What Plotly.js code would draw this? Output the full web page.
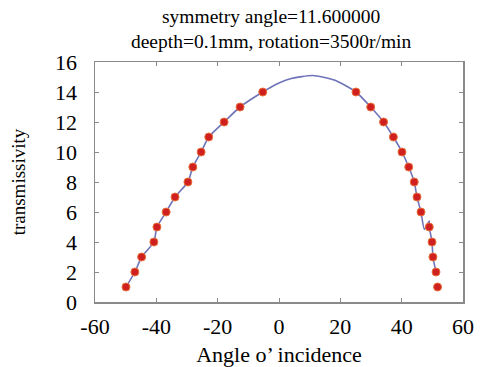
<!DOCTYPE html>
<html>
<head>
<meta charset="utf-8">
<script src="https://cdn.plot.ly/plotly-3.0.1.min.js"></script>
<style>html,body{margin:0;padding:0;background:#fff;}#chart{width:485px;height:367px;}</style>
</head>
<body>
<div id="chart"></div>
<script>
// Measured points (angle of incidence, transmissivity)
var leftAngle = [-49.9, -47.0, -44.8, -40.8, -39.8, -36.8, -33.9, -29.7, -28.1, -25.4, -22.9, -17.9, -12.7, -5.3];
var leftTrans = [1, 2, 3, 4, 5, 6, 7, 8, 9, 10, 11, 12, 13, 14];
var rightAngle = [25.1, 29.9, 34.1, 37.3, 40.1, 42.3, 44.1, 45.0, 46.3, 49.0, 49.9, 50.2, 51.2, 51.7];
var rightTrans = [14, 13, 12, 11, 10, 9, 8, 7, 6, 5, 4, 3, 2, 1];

// Fitted curve
var curveAngle = [-49.9, -47.0, -44.8, -40.8, -39.8, -36.8, -33.9, -29.7, -28.1, -25.4, -22.9, -17.9, -12.7, -5.3, 0, 4, 11, 18, 25.1, 29.9, 34.1, 37.3, 40.1, 42.3, 44.1, 45.0, 46.3, 47.4, 49.0, 49.0, 49.9, 50.2, 51.2];
var curveTrans = [1, 2, 3, 4, 5, 6, 7, 8, 9, 10, 11, 12, 13, 14, 14.6, 14.9, 15.1, 14.8, 14, 13, 12, 11, 10, 9, 8, 7, 6, 4.85, 5.4, 5, 4, 3, 2];

var xTicks = [-60, -40, -20, 0, 20, 40, 60];
var yTicks = [0, 2, 4, 6, 8, 10, 12, 14, 16];

var serif = "Liberation Serif, Times New Roman, serif";

var traces = [
  {x: curveAngle, y: curveTrans, mode: 'lines', type: 'scatter',
   line: {color: '#6f73b8', width: 1.6, shape: 'spline', smoothing: 0.6}, hoverinfo: 'skip'},
  {x: leftAngle.concat(rightAngle), y: leftTrans.concat(rightTrans), mode: 'markers', type: 'scatter',
   marker: {color: '#d01f1f', size: 8, line: {color: '#e8703a', width: 1}}}
];

var layout = {
  width: 485, height: 367,
  margin: {l: 95, r: 22, t: 62, b: 65},
  paper_bgcolor: '#fff', plot_bgcolor: '#fff',
  showlegend: false,
  title: {text: 'symmetry angle=11.600000<br>deepth=0.1mm, rotation=3500r/min',
          font: {family: serif, size: 19.5, color: '#000'}, x: 0.559, xanchor: 'center',
          yref: 'container', y: 0.938, yanchor: 'bottom'},
  xaxis: {range: [-60, 60], tickvals: xTicks, ticktext: xTicks.map(String),
          showgrid: false, zeroline: false, showline: true, mirror: 'ticks',
          linecolor: '#8a8a8a', linewidth: 1.5, ticks: 'inside', ticklen: 4, tickcolor: '#8a8a8a',
          ticklabelstandoff: 4,
          tickfont: {family: serif, size: 22, color: '#000'},
          title: {text: 'Angle o’ incidence', font: {family: serif, size: 22, color: '#000'}, standoff: 8}},
  yaxis: {range: [0, 16], tickvals: yTicks, ticktext: yTicks.map(String),
          showgrid: false, zeroline: false, showline: true, mirror: 'ticks',
          linecolor: '#8a8a8a', linewidth: 1.5, ticks: 'inside', ticklen: 4, tickcolor: '#8a8a8a',
          ticklabelstandoff: 12,
          tickfont: {family: serif, size: 22, color: '#000'},
          title: {text: 'transmissivity', font: {family: serif, size: 19, color: '#000'}, standoff: 24}}
};

Plotly.newPlot('chart', traces, layout, {displayModeBar: false, staticPlot: true});
</script>
</body>
</html>
